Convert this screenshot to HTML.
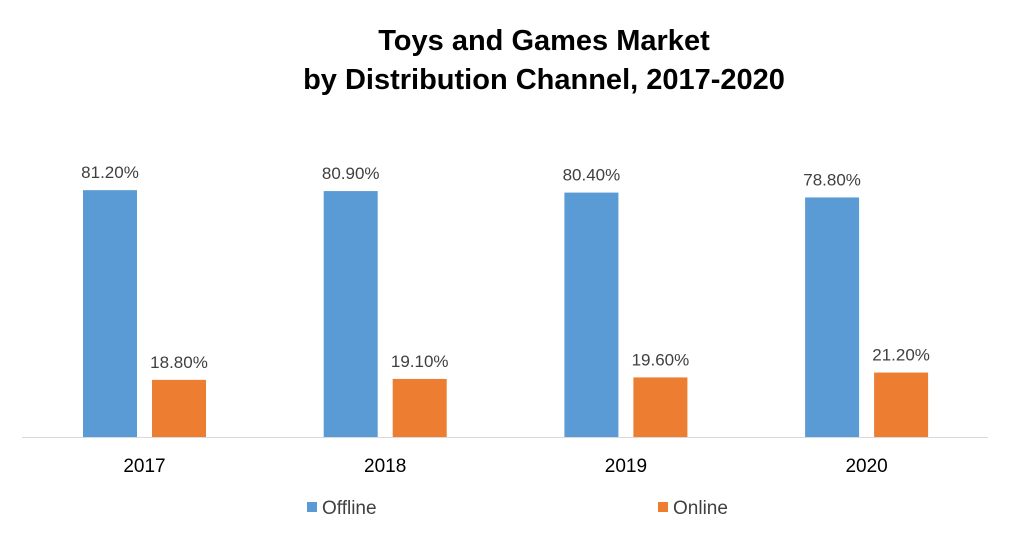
<!DOCTYPE html>
<html><head><meta charset="utf-8"><style>
html,body{margin:0;padding:0;background:#fff;}
svg{display:block;font-family:"Liberation Sans",sans-serif;}
</style></head><body>
<svg id="chart" width="1011" height="541">
<text x="544" y="50" text-anchor="middle" font-size="29" font-weight="bold" fill="#000">Toys and Games Market</text>
<text x="544" y="89" text-anchor="middle" font-size="29" font-weight="bold" fill="#000">by Distribution Channel, 2017-2020</text>
<line x1="22" y1="437.5" x2="988" y2="437.5" stroke="#d9d9d9" stroke-width="1"/>
<g id="bars"></g>
<rect x="307" y="502" width="10" height="10" fill="#5b9bd5"/>
<text x="322" y="514" font-size="19" fill="#404040">Offline</text>
<rect x="658" y="502" width="10" height="10" fill="#ed7d31"/>
<text x="673" y="514" font-size="19" fill="#404040">Online</text>
</svg>
<script>
const categories = ["2017","2018","2019","2020"];
const offline = [81.2, 80.9, 80.4, 78.8];
const online = [18.8, 19.1, 19.6, 21.2];
const offlineLabels = ["81.20%","80.90%","80.40%","78.80%"];
const onlineLabels = ["18.80%","19.10%","19.60%","21.20%"];

const NS = "http://www.w3.org/2000/svg";
const g = document.getElementById("bars");
const baseY = 437, pxPer = 3.04, left = 22, catW = 240.7, barW = 54;
function y(v){ return baseY - v * pxPer; }
function catX(i){ return left + i * catW; }
function mk(tag, attrs){ const e = document.createElementNS(NS, tag); for (const k in attrs) e.setAttribute(k, attrs[k]); g.appendChild(e); return e; }
categories.forEach((c, i) => {
  const x0 = catX(i) + 61;
  const x1 = x0 + 69;
  const b1 = mk("rect", {x: x0, y: y(offline[i]), width: barW, height: baseY - y(offline[i]), fill: "#5b9bd5"});
  
  
  const b2 = mk("rect", {x: x1, y: y(online[i]), width: barW, height: baseY - y(online[i]), fill: "#ed7d31"});
  
  
  const t1 = mk("text", {x: x0 + barW/2, y: y(offline[i]) - 12, "text-anchor": "middle", "font-size": "17", fill: "#404040"});
  t1.textContent = offlineLabels[i];
  
  
  const t2 = mk("text", {x: x1 + barW/2, y: y(online[i]) - 12, "text-anchor": "middle", "font-size": "17", fill: "#404040"});
  t2.textContent = onlineLabels[i];
  
  
  const tl = mk("text", {x: x0 + (x1 + barW - x0)/2, y: 472, "text-anchor": "middle", "font-size": "19", fill: "#000"});
  tl.textContent = c;
  
  
});
</script>
</body></html>
